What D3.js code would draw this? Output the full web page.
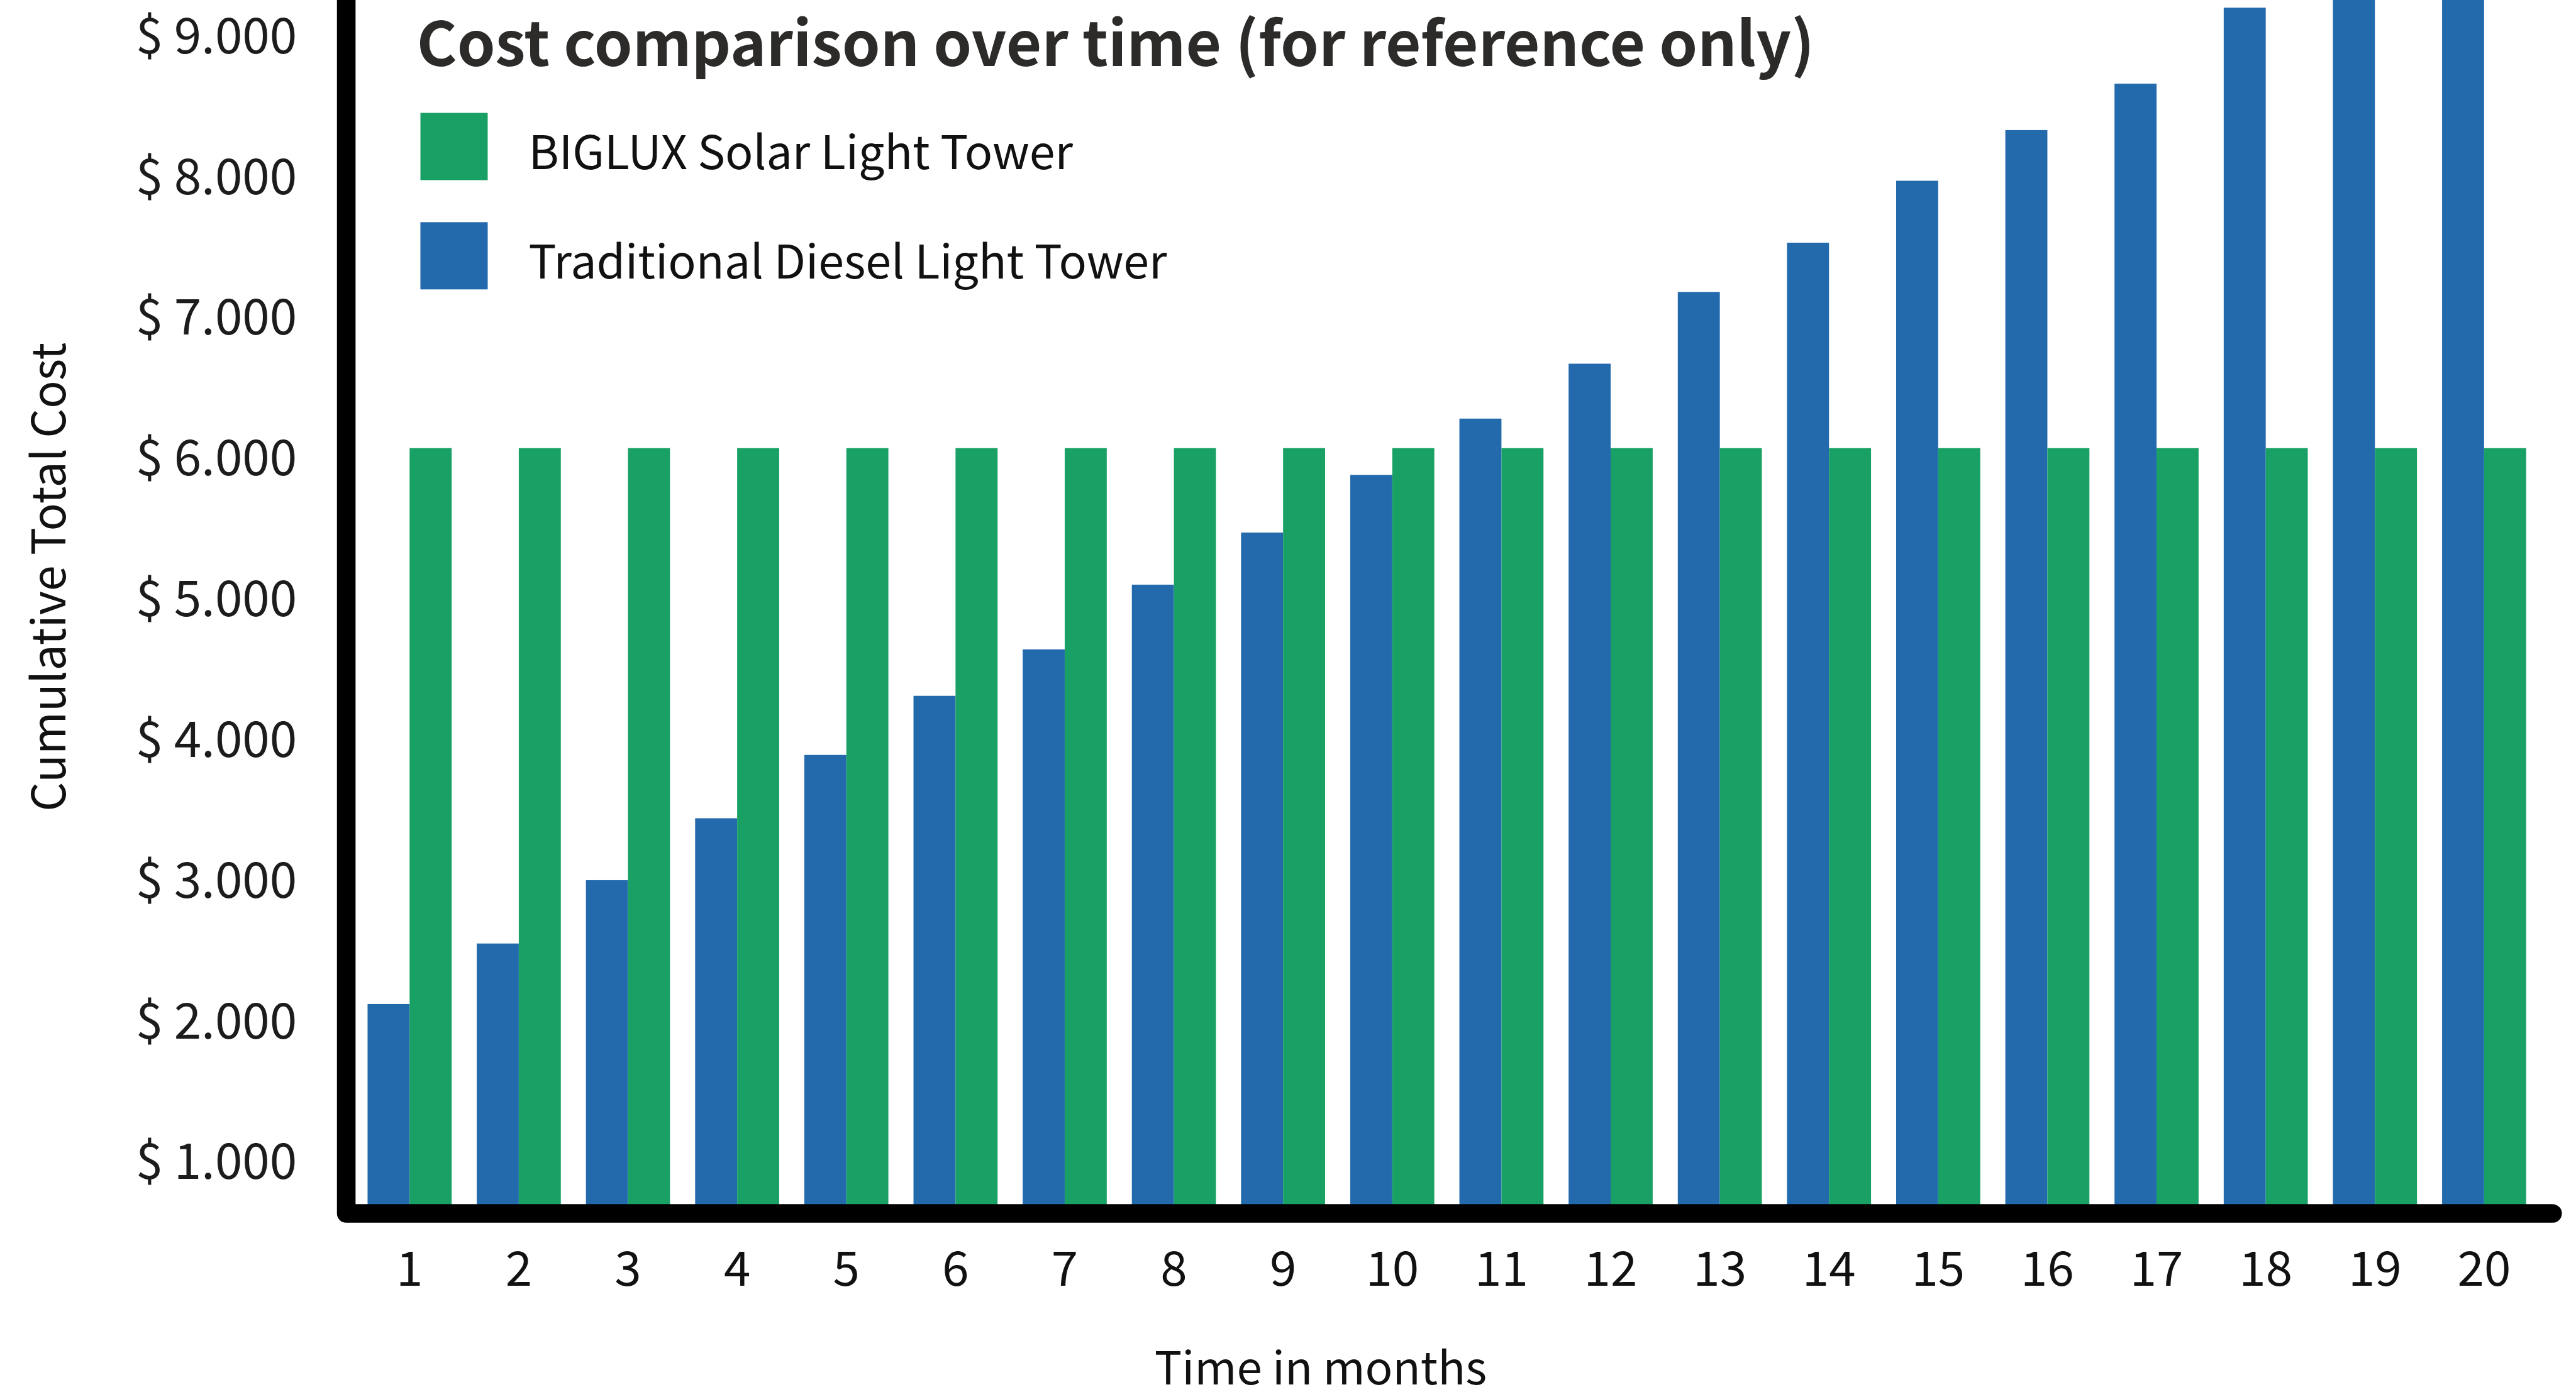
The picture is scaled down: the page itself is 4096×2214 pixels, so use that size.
<!DOCTYPE html>
<html>
<head>
<meta charset="utf-8">
<script src="https://cdn.jsdelivr.net/npm/d3@7"></script>
<style>
  html, body { margin: 0; padding: 0; background: #ffffff; }
  svg { display: block; }
</style>
</head>
<body>
<script>
// ---------- data ----------
const months = ["1","2","3","4","5","6","7","8","9","10","11","12","13","14","15","16","17","18","19","20"];
const dieselCost = [2130, 2560, 3010, 3450, 3900, 4320, 4650, 5110, 5480, 5890, 6290, 6680, 7190, 7540, 7980, 8340, 8670, 9210, 9650, 10100];
const solarCost  = [6080, 6080, 6080, 6080, 6080, 6080, 6080, 6080, 6080, 6080, 6080, 6080, 6080, 6080, 6080, 6080, 6080, 6080, 6080, 6080];
const yTickValues = [1000, 2000, 3000, 4000, 5000, 6000, 7000, 8000, 9000];
const seriesKeys = ["diesel", "solar"];
const legendLabels = ["BIGLUX Solar Light Tower", "Traditional Diesel Light Tower"];
const legendKeys = ["solar", "diesel"];
const titleText = "Cost comparison over time (for reference only)";
const yTitle = "Cumulative Total Cost";
const xTitle = "Time in months";

// ---------- setup ----------
const W = 4096, H = 2214, S = 0.955;
const FONT = "'Noto Sans CJK SC', 'Source Sans Pro', 'Noto Sans', sans-serif";
const colors = { solar: "#19a065", diesel: "#236aad" };

const svg = d3.select("body").append("svg")
  .attr("width", W).attr("height", H)
  .attr("viewBox", `0 0 ${W} ${H}`);
svg.append("rect").attr("width", W).attr("height", H).attr("fill", "#ffffff");

const g = svg.append("g").attr("transform", `scale(${S})`);

// plot geometry (reference pixel space)
const axisX = 576.5, axisY = 2021;

const x0 = d3.scaleBand().domain(months).range([612, 4206]).paddingInner(0.23).paddingOuter(0);
const x1 = d3.scaleBand().domain(seriesKeys).range([0, x0.bandwidth()]);
const y = d3.scaleLinear().domain([1000, 9000]).range([1937, 62]);

const locale = d3.formatLocale({ decimal: ",", thousands: ".", grouping: [3], currency: ["$ ", ""] });
const fmt = locale.format("$,.0f");

// clip for bars
g.append("clipPath").attr("id", "plotclip")
  .append("rect").attr("x", axisX).attr("y", 0).attr("width", 4300).attr("height", axisY);

const rows = months.map((m, i) => ({ month: m, diesel: dieselCost[i], solar: solarCost[i] }));

const groups = g.append("g").attr("clip-path", "url(#plotclip)")
  .selectAll("g").data(rows).join("g")
  .attr("transform", d => `translate(${x0(d.month)},0)`);

groups.selectAll("rect")
  .data(d => seriesKeys.map(k => ({ key: k, value: d[k] })))
  .join("rect")
  .attr("x", d => x1(d.key))
  .attr("width", x1.bandwidth())
  .attr("y", d => y(d.value))
  .attr("height", d => axisY - y(d.value))
  .attr("fill", d => colors[d.key]);

// y axis labels
const yAxis = g.append("g")
  .attr("transform", `translate(${axisX},0)`)
  .call(d3.axisLeft(y).tickValues(yTickValues).tickFormat(fmt).tickSize(0).tickPadding(82));
yAxis.select(".domain").remove();
yAxis.selectAll("text")
  .attr("font-family", FONT).attr("font-size", 82).attr("fill", "#1c1c1c");

// x axis labels
const xAxis = g.append("g")
  .attr("transform", `translate(0,${axisY})`)
  .call(d3.axisBottom(x0).tickSize(0).tickPadding(64));
xAxis.select(".domain").remove();
xAxis.selectAll("text")
  .attr("font-family", FONT).attr("font-size", 80).attr("fill", "#111111");

// thick L-shaped axis line
g.append("path")
  .attr("d", d3.line()([[axisX, -40], [axisX, axisY], [4250, axisY]]))
  .attr("fill", "none").attr("stroke", "#000000").attr("stroke-width", 31)
  .attr("stroke-linejoin", "round").attr("stroke-linecap", "round");

// title
g.append("text")
  .attr("x", 694).attr("y", 110)
  .attr("font-family", FONT).attr("font-weight", 700).attr("font-size", 102)
  .attr("fill", "#2c2b29")
  .text(titleText);

// legend
const legend = g.append("g");
const legendY = d3.scalePoint().domain(legendKeys).range([188, 370]);
legendKeys.forEach((k, i) => {
  legend.append("rect")
    .attr("x", 700).attr("y", legendY(k))
    .attr("width", 112).attr("height", 112)
    .attr("fill", colors[k]);
  legend.append("text")
    .attr("x", 880).attr("y", legendY(k) + 56 + 38)
    .attr("font-family", FONT).attr("font-size", 77).attr("fill", "#111111")
    .text(legendLabels[i]);
});

// axis titles
g.append("text")
  .attr("transform", "translate(109,961) rotate(-90)")
  .attr("text-anchor", "middle")
  .attr("font-family", FONT).attr("font-size", 77).attr("fill", "#111111")
  .text(yTitle);

g.append("text")
  .attr("x", 2199).attr("y", 2306)
  .attr("text-anchor", "middle")
  .attr("font-family", FONT).attr("font-size", 76).attr("fill", "#111111")
  .text(xTitle);
</script>
</body>
</html>
